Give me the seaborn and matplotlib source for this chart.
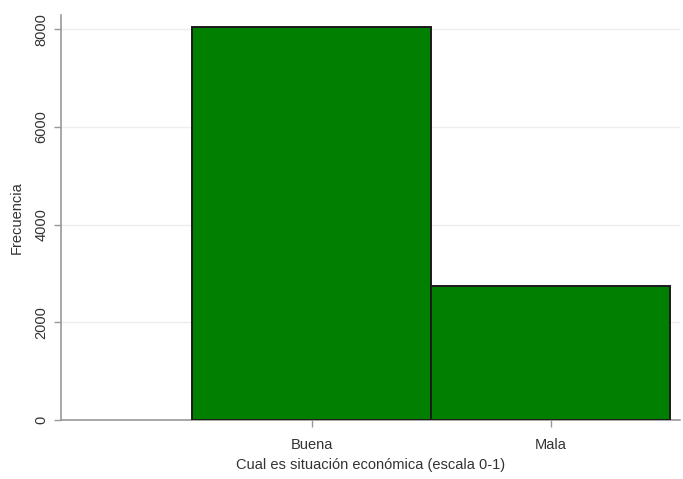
import matplotlib
matplotlib.use("Agg")
import matplotlib.pyplot as plt
import seaborn as sns
import pandas as pd

categories = ["Buena", "Mala"]
frecuencia = [8040, 2740]
y_ticks = [0, 2000, 4000, 6000, 8000]

sns.set_style("white")
plt.rcParams['font.family'] = ['Liberation Sans', 'DejaVu Sans']

df = pd.DataFrame({"cat": categories, "freq": frecuencia})

fig = plt.figure(figsize=(6.83, 4.79), dpi=100)
ax = fig.add_axes([0.0893, 0.1232, 0.9063, 0.8455])

sns.barplot(data=df, x="cat", y="freq", width=1.0, color="#007f00",
            saturation=1, edgecolor="#1a1a1a", linewidth=1.4, ax=ax, zorder=3)

ax.set_xlim(-1.05, 1.54)
ax.set_ylim(0, 8290)
ax.set_yticks(y_ticks)
ax.set_yticklabels([str(t) for t in y_ticks], rotation=90, va="center", fontsize=10.5, color="#333333")
ax.set_xticks([0, 1])
ax.set_xticklabels(categories, fontsize=10.5, color="#333333")
ax.yaxis.grid(True, color="#eeeeee", linewidth=1.0, zorder=0)
ax.set_axisbelow(True)

for s in ["top", "right"]:
    ax.spines[s].set_visible(False)
for s in ["left", "bottom"]:
    ax.spines[s].set_color("#999999")
    ax.spines[s].set_linewidth(1.2)

ax.tick_params(axis="both", which="major", bottom=True, left=True, direction="out",
               length=5, width=1, color="#999999", pad=4)
ax.tick_params(axis="x", pad=8)
ax.set_xlabel("Cual es situación económica (escala 0-1)", fontsize=10.5, color="#333333", labelpad=4)
ax.set_ylabel("Frecuencia", fontsize=10.5, color="#333333", labelpad=8)

fig.savefig("out.png", dpi=100)
